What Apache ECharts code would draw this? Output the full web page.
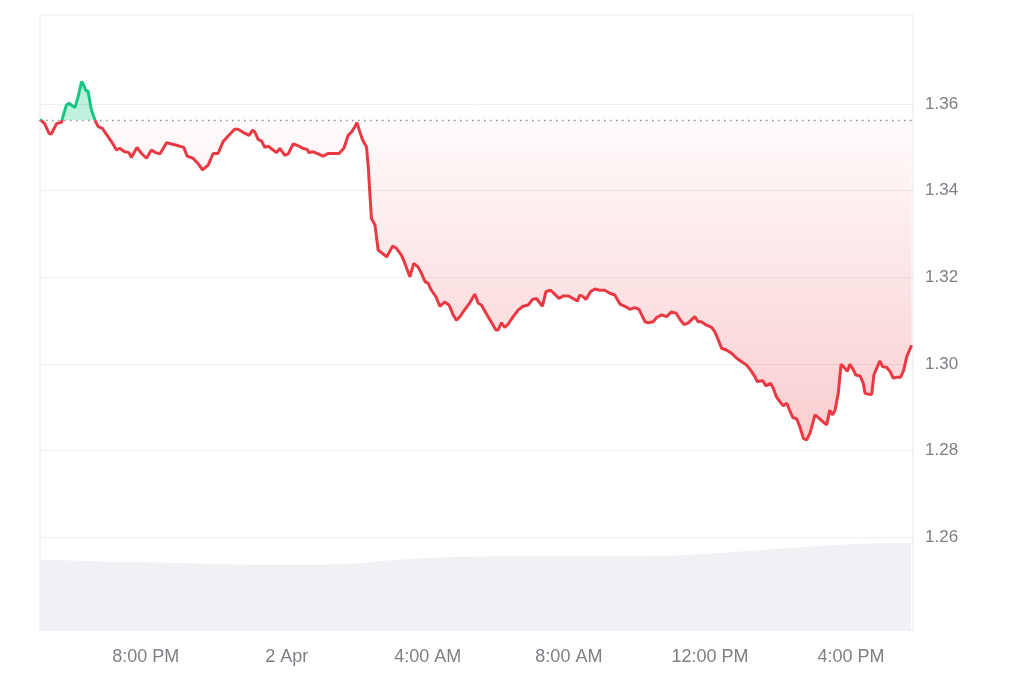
<!DOCTYPE html>
<html>
<head>
<meta charset="utf-8">
<script src="https://cdn.jsdelivr.net/npm/echarts@6/dist/echarts.min.js"></script>
<style>
html,body{margin:0;padding:0;background:#fff;}
#chart{width:1024px;height:683px;}
</style>
</head>
<body>
<div id="chart"></div>
<script>
// Hours since 1 Apr 00:00
const priceHours = [17.0,17.13,17.26,17.32,17.47,17.61,17.65,17.75,17.82,17.99,18.08,18.18,18.24,18.30,18.36,18.46,18.58,18.65,18.77,18.87,
19.03,19.17,19.26,19.40,19.52,19.59,19.75,19.88,20.02,20.16,20.28,20.40,20.59,20.73,20.87,21.08,21.17,21.34,21.48,21.61,
21.77,21.91,22.05,22.19,22.33,22.52,22.62,22.76,22.93,23.03,23.09,23.19,23.28,23.38,23.47,23.61,23.71,23.80,23.94,24.04,
24.18,24.32,24.46,24.58,24.63,24.75,24.89,25.03,25.17,25.31,25.48,25.62,25.74,25.84,25.93,25.99,26.07,26.15,26.26,26.31,
26.35,26.40,26.50,26.59,26.73,26.83,27.00,27.11,27.25,27.35,27.49,27.60,27.72,27.82,27.92,28.01,28.10,28.23,28.34,28.48,
28.60,28.72,28.81,28.91,29.05,29.19,29.33,29.43,29.52,29.68,29.81,29.93,29.99,30.09,30.18,30.28,30.42,30.56,30.70,30.85,
30.97,31.08,31.25,31.35,31.48,31.60,31.72,31.84,31.98,32.12,32.24,32.31,32.41,32.48,32.62,32.74,32.88,33.02,33.16,33.30,
33.45,33.59,33.73,33.87,33.99,34.16,34.25,34.39,34.49,34.63,34.77,34.91,35.04,35.15,35.26,35.38,35.57,35.67,35.76,35.89,
36.05,36.14,36.24,36.33,36.47,36.62,36.76,36.90,37.04,37.15,37.28,37.34,37.50,37.59,37.72,37.80,37.89,37.99,38.08,38.18,
38.25,38.35,38.46,38.55,38.65,38.74,38.84,38.98,39.10,39.21,39.31,39.40,39.48,39.55,39.64,39.72,39.80,39.90,39.97,40.07,
40.14,40.26,40.35,40.40,40.49,40.59,40.65,40.73,40.82,40.90,41.01,41.11,41.20,41.30,41.41,41.50,41.58,41.72];

const prices = [1.3565,1.3555,1.3532,1.3531,1.3555,1.3558,1.3571,1.3598,1.3602,1.3592,1.3617,1.3652,1.3644,1.3631,1.3631,1.3586,1.3559,1.3548,1.3544,1.3532,
1.3513,1.3494,1.3498,1.3490,1.3488,1.3477,1.3500,1.3486,1.3475,1.3494,1.3488,1.3485,1.3511,1.3508,1.3505,1.3500,1.3480,1.3475,1.3463,1.3448,
1.3459,1.3486,1.3486,1.3513,1.3526,1.3542,1.3542,1.3535,1.3528,1.3540,1.3536,1.3518,1.3515,1.3500,1.3503,1.3494,1.3488,1.3498,1.3482,1.3485,
1.3508,1.3504,1.3498,1.3495,1.3488,1.3490,1.3485,1.3480,1.3486,1.3486,1.3486,1.3498,1.3528,1.3536,1.3548,1.3557,1.3536,1.3517,1.3501,1.3455,
1.3401,1.3336,1.3321,1.3263,1.3254,1.3247,1.3272,1.3267,1.3251,1.3232,1.3201,1.3232,1.3224,1.3209,1.3190,1.3186,1.3170,1.3155,1.3133,1.3143,
1.3136,1.3113,1.3101,1.3109,1.3126,1.3141,1.3161,1.3140,1.3136,1.3113,1.3095,1.3078,1.3078,1.3095,1.3084,1.3092,1.3109,1.3124,1.3133,1.3136,
1.3149,1.3151,1.3133,1.3167,1.3170,1.3161,1.3151,1.3157,1.3157,1.3151,1.3145,1.3159,1.3155,1.3149,1.3167,1.3173,1.3170,1.3170,1.3163,1.3159,
1.3138,1.3133,1.3126,1.3130,1.3126,1.3097,1.3095,1.3097,1.3107,1.3113,1.3109,1.3120,1.3117,1.3103,1.3091,1.3094,1.3109,1.3097,1.3097,1.3090,
1.3084,1.3074,1.3055,1.3036,1.3032,1.3024,1.3013,1.3005,1.2997,1.2986,1.2970,1.2959,1.2961,1.2949,1.2955,1.2943,1.2923,1.2912,1.2903,1.2909,
1.2895,1.2876,1.2873,1.2855,1.2828,1.2824,1.2840,1.2882,1.2874,1.2866,1.2859,1.2893,1.2882,1.2893,1.2932,1.2999,1.2992,1.2983,1.2999,1.2986,
1.2974,1.2972,1.2955,1.2932,1.2930,1.2930,1.2974,1.2990,1.3007,1.2993,1.2992,1.2982,1.2967,1.2969,1.2969,1.2986,1.3016,1.3043];

const baseline = 1.3563;

const volumeHours = [17,18,19,20,21,22,23,24,25,26,27,28,29,30,31,32,33,34,35,36,37,38,39,40,41,41.7];
const volumes = [11.4,11.3,11.1,11.0,10.9,10.7,10.6,10.6,10.6,10.8,11.4,11.7,11.9,12.0,12.0,12.0,12.0,12.0,12.1,12.4,12.8,13.2,13.6,14.0,14.1,14.2];

const yTicks = [1.26,1.28,1.30,1.32,1.34,1.36];
const xTickHours = [20,24,28,32,36,40];
const xTickLabels = ['8:00 PM','2 Apr','4:00 AM','8:00 AM','12:00 PM','4:00 PM'];

const yMin = 1.2385, yMax = 1.3806;
const xMin = 17.0, xMax = 41.76;

const RED = '#ea3943', GREEN = '#16c784';
const f = (yMax - baseline) / (yMax - yMin);

const priceData = priceHours.map((h, i) => [h, prices[i]]);
const volumeData = volumeHours.map((h, i) => [h, volumes[i]]);

const chart = echarts.init(document.getElementById('chart'));
chart.setOption({
  animation: false,
  backgroundColor: '#fff',
  grid: { left: 40, right: 111, top: 15, bottom: 53, show: true, borderColor: '#e9eaec', borderWidth: 1 },
  xAxis: {
    type: 'value', min: xMin, max: xMax,
    axisLine: { show: false }, axisTick: { show: false }, splitLine: { show: false },
    axisLabel: {
      customValues: xTickHours, margin: 18, color: '#7c7f84', fontSize: 18,
      fontFamily: 'Liberation Sans, Arial, sans-serif',
      formatter: v => { const i = xTickHours.indexOf(v); return i >= 0 ? xTickLabels[i] : ''; }
    }
  },
  yAxis: [{
    type: 'value', position: 'right', min: yMin, max: yMax,
    axisLine: { show: false },
    axisTick: { show: false, customValues: yTicks },
    splitLine: { show: true, lineStyle: { color: '#eeeff1', width: 1 } },
    axisLabel: { customValues: yTicks, margin: 12, color: '#7c7f84', fontSize: 17,
      fontFamily: 'Liberation Sans, Arial, sans-serif', formatter: v => v.toFixed(2) }
  }, {
    type: 'value', min: 0, max: 100, show: false
  }],
  visualMap: {
    show: false, type: 'piecewise', seriesIndex: 1, dimension: 1,
    pieces: [{ gte: 1, lt: baseline, color: RED }, { gte: baseline, lte: 2, color: GREEN }],
    outOfRange: { color: RED }
  },
  series: [{
    type: 'line', yAxisIndex: 1, data: volumeData, symbol: 'none', silent: true,
    lineStyle: { width: 0 }, areaStyle: { color: '#eff1f4', opacity: 1 }, z: 1
  }, {
    type: 'line', data: priceData, symbol: 'none', z: 3,
    lineStyle: { width: 3 },
    areaStyle: {
      origin: baseline, opacity: 1,
      color: {
        type: 'linear', x: 0, y: 15, x2: 0, y2: 630, global: true,
        colorStops: [
          { offset: 0, color: 'rgba(22,199,132,0.42)' },
          { offset: f, color: 'rgba(22,199,132,0.25)' },
          { offset: f, color: 'rgba(234,57,67,0.02)' },
          { offset: f + 0.52, color: 'rgba(234,57,67,0.25)' },
          { offset: 1, color: 'rgba(234,57,67,0.32)' }
        ]
      }
    },
    markLine: {
      silent: true, symbol: 'none', precision: 6, label: { show: false },
      lineStyle: { color: '#8a8f96', type: [1.5, 4.5], width: 1.3 },
      data: [{ yAxis: baseline }]
    }
  }]
});
</script>
</body>
</html>
